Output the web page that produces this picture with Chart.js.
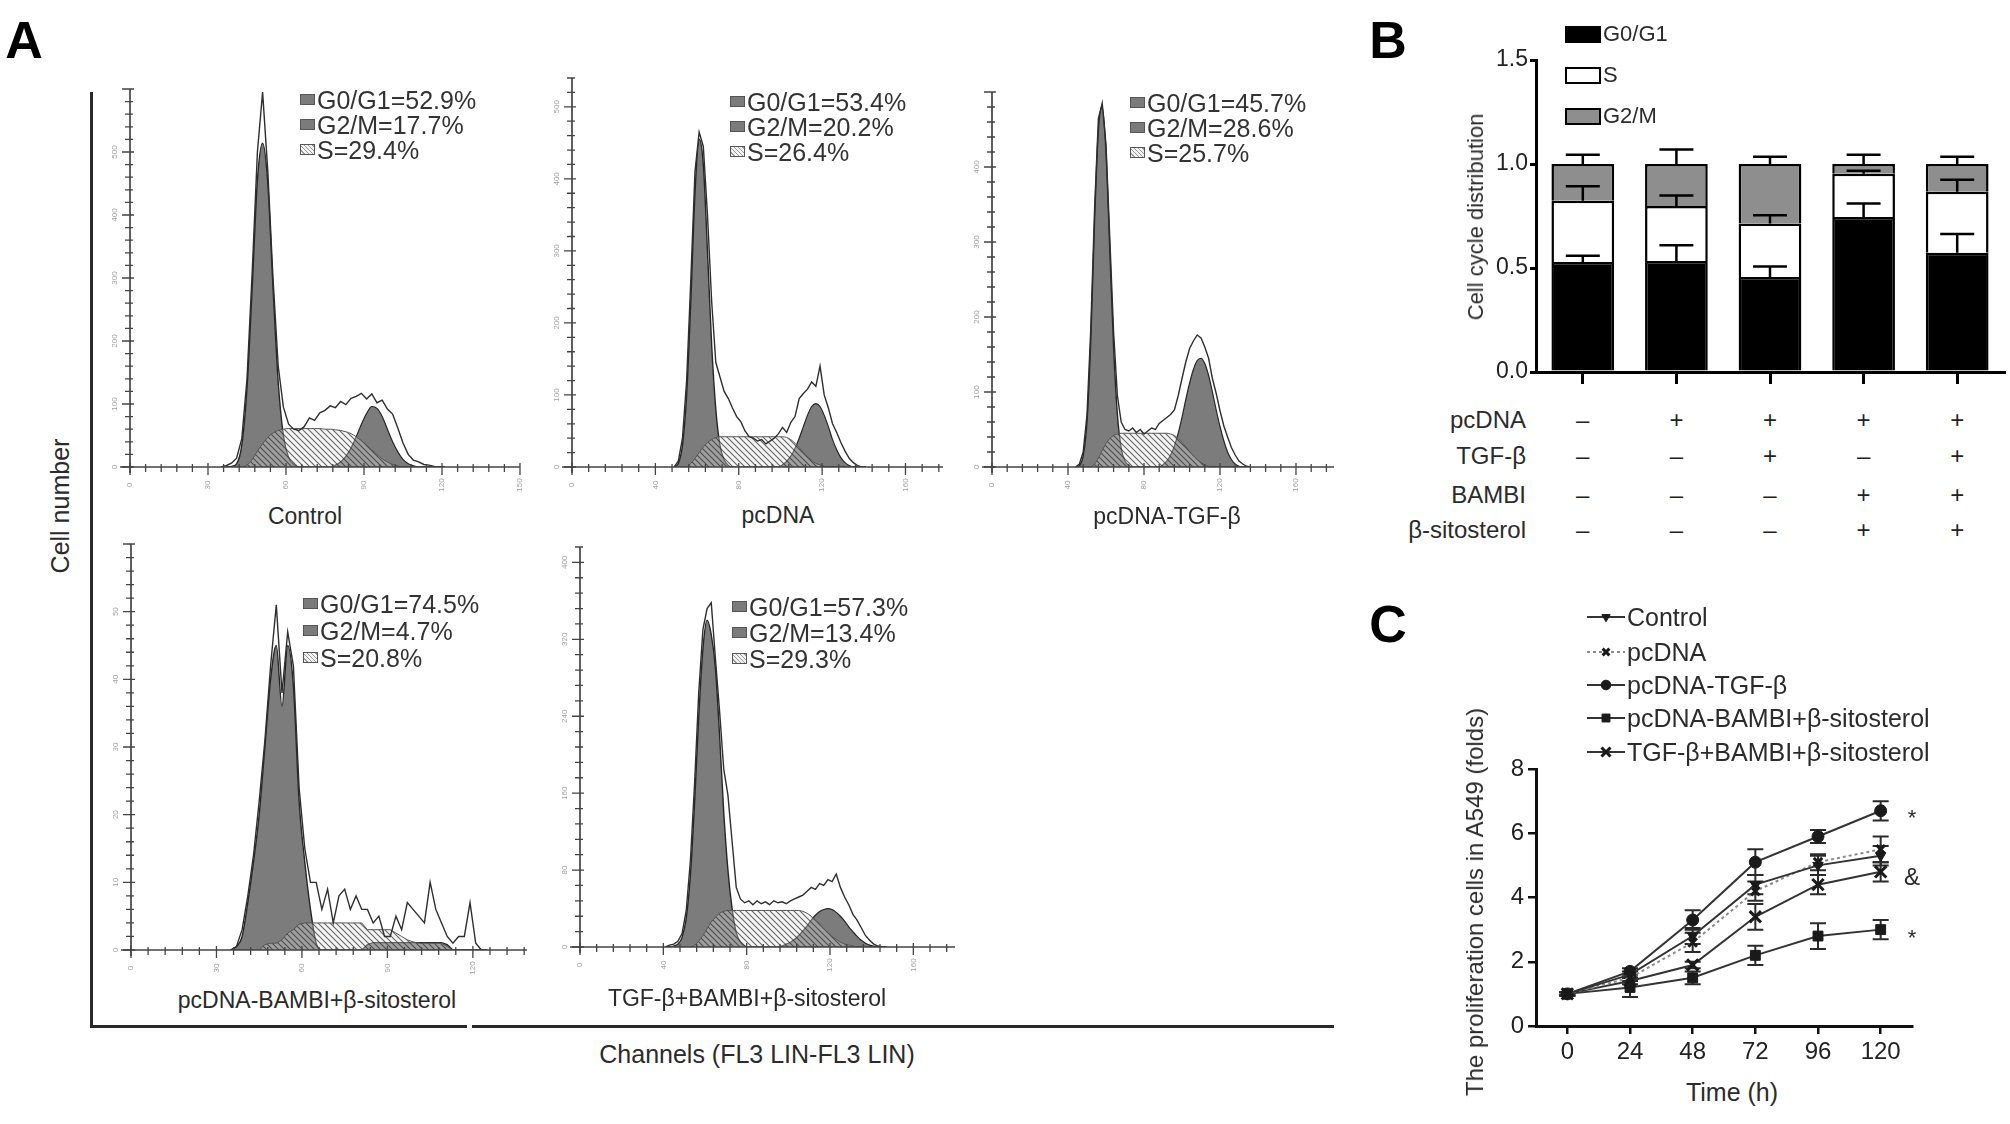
<!DOCTYPE html>
<html>
<head>
<meta charset="utf-8">
<script src="https://cdn.jsdelivr.net/npm/chart.js@4.4.0/dist/chart.umd.min.js"></script>
<style>
  body { margin: 0; background: #fff; }
  #page { position: relative; width: 2010px; height: 1124px; overflow: hidden;
          font-family: "Liberation Sans", Arial, Helvetica, sans-serif; color: #2b2b2b; }
  #page canvas { position: absolute; }
  .t { position: absolute; white-space: nowrap; line-height: 1; }
  .rule { position: absolute; background: #2a2a2a; }
  .sw { position: absolute; width: 15px; height: 11px; border: 1px solid #555; box-sizing: border-box; }
  .sw.dark { background: #7b7b7b; }
  .sw.hatch { background: repeating-linear-gradient(45deg, #f2f2f2 0 2px, #9a9a9a 2px 3px); }
  .bbox { position: absolute; width: 36px; height: 17px; border: 2.5px solid #000; box-sizing: border-box; }
</style>
</head>
<body>
<div id="page"></div>
<script>
// ─── PANEL A DATA: flow cytometry histograms ──────────────────────
// channel grid + raw counts + fitted G0/G1, S and G2/M components

// Control
const CTRL_CH  = [35,37,39,41,43,45,47,49,51,53,55,57,59,61,63,65,67,69,71,73,75,77,79,81,83,85,87,89,91,93,95,97,99,101,103,105,107,109,111,113,115,117,119,121];
const CTRL_RAW = [0,2,6,14,45,140,310,500,595,470,300,160,95,68,60,58,64,78,74,86,90,97,94,104,99,109,112,117,108,116,102,106,92,84,62,38,20,11,8,4,3,1,0,0];
const CTRL_G1  = [0,0,1,5,35,125,285,455,514,450,285,135,50,15,4,0,
                  0,0,0,0,0,0,0,0,0,0,0,0,0,0,0,0,0,0,0,0,0,0,0,0,0,0,0,0];
const CTRL_S   = [0,0,0,0,0,3,12,25,37,47,54,58,60,61,61,61,61,61,61,61,60,60,59,58,56,53,48,42,35,27,20,13,8,4,2,0,
                  0,0,0,0,0,0,0,0];
const CTRL_G2  = [0,0,0,0,0,0,0,0,0,0,0,0,0,0,0,0,0,0,0,0,0,0,
                  3,8,17,30,48,68,85,96,93,80,60,40,24,12,5,2,0,0,0,0,0,0];
const CTRL_PCT = ["G0/G1=52.9%", "G2/M=17.7%", "S=29.4%"];

// pcDNA
const PC_CH  = [49,51,53,55,57,59,61,63,65,67,69,71,73,75,77,79,81,83,85,87,89,91,93,95,97,99,101,103,105,107,109,111,113,115,117,119,121,123,125,127,129,131,133,135,137,139,141];
const PC_RAW = [0,8,40,120,260,410,465,445,350,230,145,125,105,95,82,70,63,50,42,40,36,38,32,36,40,46,55,48,62,70,95,102,108,118,112,140,100,82,60,48,34,22,12,6,2,0,0];
const PC_G1  = [0,5,30,100,230,380,455,420,300,170,80,30,10,2,0,
                0,0,0,0,0,0,0,0,0,0,0,0,0,0,0,0,0,0,0,0,0,0,0,0,0,0,0,0,0,0,0,0];
const PC_S   = [0,0,0,0,5,12,20,28,34,38,41,42,42,42,42,42,42,42,42,42,42,42,42,42,42,42,42,
                41,38,33,27,20,14,9,5,3,1,0,0,0,0,0,0,0,0,0,0];
const PC_G2  = [0,0,0,0,0,0,0,0,0,0,0,0,0,0,0,0,0,0,0,0,0,0,0,0,0,0,
                3,8,15,26,40,56,72,84,88,84,72,56,38,24,13,6,2,0,0,0,0];
const PC_PCT = ["G0/G1=53.4%", "G2/M=20.2%", "S=26.4%"];

// pcDNA-TGF-β
const TGF_CH  = [44,46,48,50,52,54,56,58,60,62,64,66,68,70,72,74,76,78,80,82,84,86,88,90,92,94,96,98,100,102,104,106,108,110,112,114,116,118,120,122,124,126,128,130,132,134,136];
const TGF_RAW = [0,4,20,70,185,345,465,485,430,305,180,95,60,50,48,52,46,50,44,48,52,50,58,62,66,70,76,95,118,140,158,168,176,172,160,145,118,98,75,55,40,26,16,8,4,1,0];
const TGF_G1  = [0,2,15,60,170,330,450,480,420,290,160,70,25,8,2,0,
                 0,0,0,0,0,0,0,0,0,0,0,0,0,0,0,0,0,0,0,0,0,0,0,0,0,0,0,0,0,0,0];
const TGF_S   = [0,0,0,0,0,4,12,22,31,38,42,44,45,45,45,45,45,45,45,45,45,45,45,45,45,
                 44,42,38,33,27,21,15,10,6,3,1,0,0,0,0,0,0,0,0,0,0,0];
const TGF_G2  = [0,0,0,0,0,0,0,0,0,0,0,0,0,0,0,0,0,0,0,0,0,0,0,
                 3,8,16,28,45,66,90,112,130,142,145,138,122,100,76,54,35,20,10,4,1,0,0,0];
const TGF_PCT = ["G0/G1=45.7%", "G2/M=28.6%", "S=25.7%"];

// pcDNA-BAMBI+β-sitosterol
const BAM_CH  = [35,37,39,41,43,45,47,49,51,53,55,57,59,61,63,65,67,69,71,73,75,77,79,81,83,85,87,89,91,93,95,97,99,101,103,105,107,109,111,113,115,117,119,121,123,125];
const BAM_RAW = [0,0.5,3,8,14,22,31,42,51,38,47,42,24,15,10,10,6,9,4,8,9,6,8,6,6,4,5,2,2,5,3,7,6,5,4,10,6,4,2,1,2,2,7,1,0,0];
const BAM_G1  = [0,0.5,2,7,13,20,30,40,45,36,45,39,22,13,6,1,0,
                 0,0,0,0,0,0,0,0,0,0,0,0,0,0,0,0,0,0,0,0,0,0,0,0,0,0,0,0,0];
const BAM_S   = [0,0,0,0,0,0,0.8,1,1,1.5,2.5,3,3.8,4,4,4,4,4,4,4,4,4,4,4,
                 3,3,3,3,3,2.5,2,1.5,1.2,1,1,1,1,1,0.5,0,0,0,0,0,0,0];
const BAM_G2  = [0,0,0,0,0,0,0,0,0,0,0,0,0,0,0,0,0,0,0,0,0,0,0,0,
                 0.8,1.1,1.1,1.1,1.1,1.1,1.1,1.1,1.1,1.1,1.1,1.1,1.1,1.1,0.8,0,0,0,0,0,0,0];
const BAM_PCT = ["G0/G1=74.5%", "G2/M=4.7%", "S=20.8%"];

// TGF-β+BAMBI+β-sitosterol
const TB_CH  = [41,43,45,47,49,51,53,55,57,59,61,63,65,67,69,71,73,75,77,79,81,83,85,87,89,91,93,95,97,99,101,103,105,107,109,111,113,115,117,119,121,123,125,127,129,131,133,135,137,139,141,143,145,147];
const TB_RAW = [0,2,3,6,14,38,90,170,265,330,352,358,300,245,185,158,110,62,50,46,48,44,48,45,47,44,48,46,47,45,48,50,52,54,58,62,60,66,64,70,68,76,62,52,44,34,28,20,12,7,3,1,0,0];
const TB_G1  = [0,0,1,3,10,30,75,150,240,310,340,325,290,220,140,80,40,15,5,1,0,
                0,0,0,0,0,0,0,0,0,0,0,0,0,0,0,0,0,0,0,0,0,0,0,0,0,0,0,0,0,0,0,0,0];
const TB_S   = [0,0,0,0,0,0,0,2,6,12,19,26,31,35,37,38,38,38,38,38,38,38,38,38,38,38,38,38,38,38,38,38,38,
                37,35,32,28,24,19,15,11,8,5,3,2,1,0,0,0,0,0,0,0,0];
const TB_G2  = [0,0,0,0,0,0,0,0,0,0,0,0,0,0,0,0,0,0,0,0,0,0,0,0,0,0,0,0,
                1,3,5,8,12,17,22,28,33,37,39,40,39,36,32,27,21,16,11,7,4,2,1,0,0,0];
const TB_PCT = ["G0/G1=57.3%", "G2/M=13.4%", "S=29.3%"];

// ─── PANEL B DATA: stacked cell-cycle distribution ────────────────
const GROUPS   = ["Control", "pcDNA", "pcDNA-TGF-β", "pcDNA-BAMBI+β-sitosterol", "TGF-β+BAMBI+β-sitosterol"];
const G0G1     = [0.529, 0.534, 0.457, 0.745, 0.573];
const S_PHASE  = [0.294, 0.264, 0.257, 0.208, 0.293];
const G2M      = [0.177, 0.202, 0.286, 0.047, 0.134];
const G0G1_ERR = [0.03, 0.075, 0.05, 0.065, 0.09];
const S_ERR    = [0.07, 0.05, 0.04, 0.015, 0.058];
const G2M_ERR  = [0.045, 0.07, 0.035, 0.045, 0.035];
const B_TICKS  = [0, 0.5, 1.0, 1.5];

const COND_NAMES = ["pcDNA", "TGF-β", "BAMBI", "β-sitosterol"];
const COND_PCDNA = ["–", "+", "+", "+", "+"];
const COND_TGF   = ["–", "–", "+", "–", "+"];
const COND_BAMBI = ["–", "–", "–", "+", "+"];
const COND_SITO  = ["–", "–", "–", "+", "+"];

// ─── PANEL C DATA: proliferation curves ───────────────────────────
const TIME        = [0, 24, 48, 72, 96, 120];
const C_YTICKS    = [0, 2, 4, 6, 8];
const CTRL_PROL   = [1.0, 1.6, 2.8, 4.4, 5.0, 5.3];
const CTRL_PERR   = [0.05, 0.1, 0.25, 0.3, 0.3, 0.3];
const PC_PROL     = [1.0, 1.5, 2.6, 4.2, 5.1, 5.5];
const PC_PERR     = [0.05, 0.1, 0.3, 0.3, 0.25, 0.4];
const TGF_PROL    = [1.0, 1.7, 3.3, 5.1, 5.9, 6.7];
const TGF_PERR    = [0.05, 0.1, 0.3, 0.4, 0.2, 0.3];
const SITO_PROL   = [1.0, 1.2, 1.5, 2.2, 2.8, 3.0];
const SITO_PERR   = [0.05, 0.3, 0.2, 0.3, 0.4, 0.3];
const TB_PROL     = [1.0, 1.4, 1.9, 3.4, 4.4, 4.8];
const TB_PERR     = [0.05, 0.1, 0.1, 0.4, 0.3, 0.3];
const C_NAMES     = ["Control", "pcDNA", "pcDNA-TGF-β", "pcDNA-BAMBI+β-sitosterol", "TGF-β+BAMBI+β-sitosterol"];

// ─── HELPERS ──────────────────────────────────────────────────────
const FONT = '"Liberation Sans", Arial, Helvetica, sans-serif';
Chart.defaults.font.family = FONT;
Chart.defaults.color = "#222";
const page = document.getElementById("page");

function addText(txt, x, y, o = {}) {
  const d = document.createElement("div");
  d.className = "t";
  d.textContent = txt;
  d.style.left = x + "px";
  d.style.top = y + "px";
  d.style.fontSize = (o.size || 24) + "px";
  let tr = o.align === "center" ? "translate(-50%,-50%)" : o.align === "right" ? "translate(-100%,-50%)" : "translate(0,-50%)";
  if (o.rotate) tr += ` rotate(${o.rotate}deg)`;
  d.style.transform = tr;
  if (o.bold) d.style.fontWeight = "bold";
  if (o.color) d.style.color = o.color;
  page.appendChild(d);
  return d;
}

function addBox(cls, x, y) {
  const d = document.createElement("div");
  d.className = cls;
  d.style.left = x + "px";
  d.style.top = y + "px";
  page.appendChild(d);
  return d;
}

function addRule(x, y, w, h) {
  const d = document.createElement("div");
  d.className = "rule";
  Object.assign(d.style, { left: x + "px", top: y + "px", width: w + "px", height: h + "px" });
  page.appendChild(d);
}

function addCanvas(x, y, w, h) {
  const c = document.createElement("canvas");
  c.width = Math.round(w); c.height = Math.round(h);
  c.style.left = Math.round(x) + "px"; c.style.top = Math.round(y) + "px";
  page.appendChild(c);
  return c;
}

// diagonal hatch used for the S-phase component
function makeHatch() {
  const c = document.createElement("canvas");
  c.width = 6; c.height = 6;
  const g = c.getContext("2d");
  g.fillStyle = "rgba(225,225,225,0.35)";
  g.fillRect(0, 0, 6, 6);
  g.strokeStyle = "rgba(40,40,40,0.7)";
  g.lineWidth = 1.1;
  g.beginPath();
  g.moveTo(0, 0); g.lineTo(6, 6);
  g.moveTo(-3, 3); g.lineTo(3, 9);
  g.moveTo(3, -3); g.lineTo(9, 3);
  g.stroke();
  return g.createPattern(c, "repeat");
}

// ─── PLUGINS ──────────────────────────────────────────────────────
// axes of the cytometer plots: crossing ticks + tiny rotated labels
const flowAxes = {
  id: "flowAxes",
  afterDatasetsDraw(chart, args, o) {
    const { ctx, scales: { x, y } } = chart;
    const x0 = x.getPixelForValue(0), y0 = y.getPixelForValue(0);
    const xEnd = x.getPixelForValue(x.max), yTop = y.getPixelForValue(y.max);
    const isMajor = (v, step) => Math.abs(v / step - Math.round(v / step)) < 1e-6;
    ctx.save();
    ctx.strokeStyle = "#444";
    ctx.lineWidth = 1.7;
    ctx.beginPath();
    ctx.moveTo(x0 - 10, y0); ctx.lineTo(xEnd, y0);
    ctx.moveTo(x0, y0 + 6); ctx.lineTo(x0, yTop);
    ctx.stroke();

    ctx.lineWidth = 1.3;
    ctx.beginPath();
    for (let v = 0; v <= x.max + 1e-9; v += o.xMin) {
      const px = x.getPixelForValue(v), m = isMajor(v, o.xMaj);
      ctx.moveTo(px, y0 - (m ? 4 : 3)); ctx.lineTo(px, y0 + (m ? 8 : 5));
    }
    for (let v = 0; v <= y.max + 1e-9; v += o.yMin) {
      const py = y.getPixelForValue(v), m = isMajor(v, o.yMaj);
      ctx.moveTo(x0 - (m ? 8 : 5), py); ctx.lineTo(x0 + (m ? 4 : 3), py);
    }
    ctx.stroke();

    ctx.fillStyle = "#a0a0a0";
    ctx.font = "8px " + FONT;
    ctx.textAlign = "center";
    ctx.textBaseline = "middle";
    for (let v = 0; v <= x.max + 1e-9; v += o.xMaj) {
      ctx.save();
      ctx.translate(x.getPixelForValue(v), y0 + 18);
      ctx.rotate(-Math.PI / 2);
      ctx.fillText(String(v), 0, 0);
      ctx.restore();
    }
    for (let v = 0; v < y.max - 1e-9; v += o.yMaj) {
      ctx.save();
      ctx.translate(x0 - 15, y.getPixelForValue(v));
      ctx.rotate(-Math.PI / 2);
      ctx.fillText(String(v), 0, 0);
      ctx.restore();
    }
    ctx.restore();
  }
};

// error bars on top of each stacked segment
const stackErrBars = {
  id: "stackErrBars",
  afterDatasetsDraw(chart, args, o) {
    const { ctx, scales: { x, y } } = chart;
    const tops = chart.data.labels.map(() => 0);
    ctx.save();
    ctx.strokeStyle = "#000";
    ctx.lineWidth = 2.5;
    chart.data.datasets.forEach((ds, d) => {
      ds.data.forEach((v, j) => {
        tops[j] += v;
        const px = x.getPixelForValue(j);
        const yb = y.getPixelForValue(tops[j]);
        const yt = y.getPixelForValue(tops[j] + o.errors[d][j]);
        ctx.beginPath();
        ctx.moveTo(px, yb); ctx.lineTo(px, yt);
        ctx.moveTo(px - o.cap, yt); ctx.lineTo(px + o.cap, yt);
        ctx.stroke();
      });
    });
    ctx.restore();
  }
};

// symmetric error bars on line points
const pointErrBars = {
  id: "pointErrBars",
  beforeDatasetsDraw(chart, args, o) {
    const { ctx, scales: { x, y } } = chart;
    ctx.save();
    ctx.strokeStyle = "#2a2a2a";
    ctx.lineWidth = 2;
    chart.data.datasets.forEach((ds, d) => {
      ds.data.forEach((p, j) => {
        const e = o.errors[d][j];
        const px = x.getPixelForValue(p.x);
        const yl = y.getPixelForValue(p.y - e), yh = y.getPixelForValue(p.y + e);
        ctx.beginPath();
        ctx.moveTo(px, yl); ctx.lineTo(px, yh);
        ctx.moveTo(px - o.cap, yl); ctx.lineTo(px + o.cap, yl);
        ctx.moveTo(px - o.cap, yh); ctx.lineTo(px + o.cap, yh);
        ctx.stroke();
      });
    });
    ctx.restore();
  }
};

// line + marker samples for the panel C legend (text is HTML)
const sampleLegend = {
  id: "sampleLegend",
  afterDraw(chart, args, o) {
    const ctx = chart.ctx;
    chart.data.datasets.forEach((ds, i) => {
      const y = o.rows[i], cx = (o.x1 + o.x2) / 2;
      ctx.save();
      ctx.strokeStyle = ds.borderColor;
      ctx.lineWidth = ds.borderWidth;
      ctx.setLineDash(ds.borderDash || []);
      ctx.beginPath();
      ctx.moveTo(o.x1, y); ctx.lineTo(o.x2, y);
      ctx.stroke();
      ctx.setLineDash([]);
      ctx.fillStyle = ds.pointBackgroundColor;
      ctx.strokeStyle = ds.pointBorderColor;
      ctx.lineWidth = ds.pointBorderWidth;
      Chart.helpers.drawPoint(ctx, {
        pointStyle: ds.pointStyle, rotation: ds.pointRotation || 0,
        radius: ds.pointRadius * 0.8, borderWidth: ds.pointBorderWidth
      }, cx, y);
      ctx.restore();
    });
  }
};

// ─── PANEL A ──────────────────────────────────────────────────────
const HISTS = [
  { ch: CTRL_CH, raw: CTRL_RAW, g1: CTRL_G1, s: CTRL_S, g2: CTRL_G2, pct: CTRL_PCT, title: "Control",
    box: { x0: 130, base: 467, xEnd: 520, xMax: 150, yMax: 600, pxY: 0.63 },
    ticks: { xMaj: 30, xMin: 6, yMaj: 100, yMin: 20 },
    legend: { x: 300, y: 100, dy: 25 }, titleAt: [305, 516], smooth: true },
  { ch: PC_CH, raw: PC_RAW, g1: PC_G1, s: PC_S, g2: PC_G2, pct: PC_PCT, title: "pcDNA",
    box: { x0: 572, base: 467, xEnd: 943, xMax: 178, yMax: 540, pxY: 0.72 },
    ticks: { xMaj: 40, xMin: 8, yMaj: 100, yMin: 20 },
    legend: { x: 730, y: 102, dy: 25 }, titleAt: [778, 515], smooth: true },
  { ch: TGF_CH, raw: TGF_RAW, g1: TGF_G1, s: TGF_S, g2: TGF_G2, pct: TGF_PCT, title: "pcDNA-TGF-β",
    box: { x0: 992, base: 467, xEnd: 1334, xMax: 180, yMax: 500, pxY: 0.75 },
    ticks: { xMaj: 40, xMin: 8, yMaj: 100, yMin: 20 },
    legend: { x: 1130, y: 103, dy: 25 }, titleAt: [1167, 516], smooth: true },
  { ch: BAM_CH, raw: BAM_RAW, g1: BAM_G1, s: BAM_S, g2: BAM_G2, pct: BAM_PCT, title: "pcDNA-BAMBI+β-sitosterol",
    box: { x0: 131, base: 950, xEnd: 527, xMax: 139, yMax: 60, pxY: 6.76 },
    ticks: { xMaj: 30, xMin: 6, yMaj: 10, yMin: 2 },
    legend: { x: 303, y: 604, dy: 27 }, titleAt: [317, 1000], smooth: false },
  { ch: TB_CH, raw: TB_RAW, g1: TB_G1, s: TB_S, g2: TB_G2, pct: TB_PCT, title: "TGF-β+BAMBI+β-sitosterol",
    box: { x0: 580, base: 947, xEnd: 955, xMax: 180, yMax: 416, pxY: 0.9625 },
    ticks: { xMaj: 40, xMin: 8, yMaj: 80, yMin: 16 },
    legend: { x: 732, y: 607, dy: 26 }, titleAt: [747, 998], smooth: true }
];

const M = 30;
const hatch = makeHatch();

HISTS.forEach(h => {
  const b = h.box;
  const yTop = b.base - b.yMax * b.pxY;
  const cv = addCanvas(b.x0 - M, yTop - M, (b.xEnd - b.x0) + 2 * M, (b.base - yTop) + 2 * M);
  const pts = arr => h.ch.map((c, i) => ({ x: c, y: arr[i] }));
  const phase = (arr, smooth, extra) => Object.assign({
    data: pts(arr), pointRadius: 0, fill: "origin",
    cubicInterpolationMode: smooth ? "monotone" : "default", tension: 0
  }, extra);

  new Chart(cv, {
    type: "line",
    data: {
      datasets: [
        { data: pts(h.raw), borderColor: "#2e2e2e", borderWidth: 1.4, pointRadius: 0, fill: false, tension: 0, order: 0 },
        phase(h.s, h.smooth, { borderColor: "#555", borderWidth: 1, backgroundColor: hatch, order: 1 }),
        phase(h.g1, true, { borderColor: "#262626", borderWidth: 1.4, backgroundColor: "#7c7c7c", order: 2 }),
        phase(h.g2, h.smooth, { borderColor: "#262626", borderWidth: 1.2, backgroundColor: "#7c7c7c", order: 2 })
      ]
    },
    options: {
      responsive: false,
      animation: false,
      layout: { padding: M },
      plugins: { legend: { display: false }, tooltip: { enabled: false }, flowAxes: h.ticks },
      scales: {
        x: { type: "linear", min: 0, max: b.xMax, display: false },
        y: { min: 0, max: b.yMax, display: false }
      }
    },
    plugins: [flowAxes]
  });

  // legend: G0/G1, G2/M dark swatches, S hatched
  const L = h.legend;
  ["sw dark", "sw dark", "sw hatch"].forEach((cls, i) => {
    addBox(cls, L.x, L.y + i * L.dy - 6);
    addText(h.pct[i], L.x + 17, L.y + i * L.dy, { size: 25, color: "#333" });
  });
  addText(h.title, h.titleAt[0], h.titleAt[1], { size: 23, align: "center", color: "#2a2a2a" });
});

// frame around panel A
addRule(90, 92, 3, 936);
addRule(90, 1025, 377, 3);
addRule(472, 1025, 862, 3);
addText("Cell number", 60, 506, { size: 25, align: "center", rotate: -90 });
addText("Channels (FL3 LIN-FL3 LIN)", 757, 1054, { size: 25, align: "center" });

// ─── PANEL B ──────────────────────────────────────────────────────
const cB = addCanvas(1440, 20, 570, 372);
const barB = new Chart(cB, {
  type: "bar",
  data: {
    labels: GROUPS,
    datasets: [
      { label: "G0/G1", data: G0G1,    backgroundColor: "#000",    borderColor: "#000", borderWidth: 2.5 },
      { label: "S",     data: S_PHASE, backgroundColor: "#fff",    borderColor: "#000", borderWidth: 2.5 },
      { label: "G2/M",  data: G2M,     backgroundColor: "#8e8e8e", borderColor: "#000", borderWidth: 2.5 }
    ]
  },
  options: {
    responsive: false,
    animation: false,
    layout: { padding: { top: 40, right: 6, left: 0, bottom: 0 } },
    datasets: { bar: { categoryPercentage: 1, barPercentage: 0.67 } },
    plugins: {
      legend: { display: false }, tooltip: { enabled: false },
      stackErrBars: { errors: [G0G1_ERR, S_ERR, G2M_ERR], cap: 17 }
    },
    scales: {
      x: {
        stacked: true,
        ticks: { display: false },
        grid: { drawOnChartArea: false, offset: false, tickLength: 12, lineWidth: 3, color: "#000" },
        border: { color: "#000", width: 3 },
        afterFit(s) { s.height = 20; }
      },
      y: {
        stacked: true, min: 0, max: 1.5,
        afterBuildTicks(s) { s.ticks = B_TICKS.map(v => ({ value: v })); },
        ticks: { callback: v => v.toFixed(1), font: { size: 23 }, color: "#222", padding: 2 },
        grid: { drawOnChartArea: false, tickLength: 6, lineWidth: 3, color: "#000" },
        border: { color: "#000", width: 3 },
        afterFit(s) { s.width = 96; }
      }
    }
  },
  plugins: [stackErrBars]
});

addText("B", 1388, 40, { size: 52, bold: true, align: "center", color: "#000" });
addText("Cell cycle distribution", 1476, 217, { size: 22, align: "center", rotate: -90 });
[["#000", "G0/G1"], ["#fff", "S"], ["#8e8e8e", "G2/M"]].forEach(([col, name], i) => {
  const y = [34, 75, 116][i];
  addBox("bbox", 1565, y - 8).style.background = col;
  addText(name, 1603, y, { size: 22 });
});

// treatment table under the bars, aligned with the category scale
const condRows = [COND_PCDNA, COND_TGF, COND_BAMBI, COND_SITO];
const condY = [420, 456, 495, 530];
condRows.forEach((row, r) => {
  addText(COND_NAMES[r], 1526, condY[r], { size: 24, align: "right" });
  row.forEach((mark, j) => {
    const cx = 1440 + barB.scales.x.getPixelForValue(j);
    addText(mark, cx, condY[r], { size: 24, align: "center", color: "#222" });
  });
});

// ─── PANEL C ──────────────────────────────────────────────────────
const C_TOP = 600, C_LEFT = 1440;
const cC = addCanvas(C_LEFT, C_TOP, 483, 471);
const prolSeries = [
  { data: CTRL_PROL, style: "triangle", rot: 180, r: 6,   dash: [],     color: "#333" },
  { data: PC_PROL,   style: "crossRot", rot: 0,   r: 6,   dash: [3, 3], color: "#8a8a8a" },
  { data: TGF_PROL,  style: "circle",   rot: 0,   r: 6,   dash: [],     color: "#333" },
  { data: SITO_PROL, style: "rect",     rot: 0,   r: 7,   dash: [],     color: "#333" },
  { data: TB_PROL,   style: "crossRot", rot: 0,   r: 8,   dash: [],     color: "#333" }
];
const legendRows = [617, 652, 685, 718, 752];

new Chart(cC, {
  type: "line",
  data: {
    datasets: prolSeries.map((s, i) => ({
      label: C_NAMES[i],
      data: TIME.map((t, j) => ({ x: t, y: s.data[j] })),
      borderColor: s.color,
      borderWidth: 2,
      borderDash: s.dash,
      pointStyle: s.style,
      pointRotation: s.rot,
      pointRadius: s.r,
      pointBorderWidth: s.style === "crossRot" ? 3 : 1,
      pointBackgroundColor: "#1a1a1a",
      pointBorderColor: "#1a1a1a",
      tension: 0
    }))
  },
  options: {
    responsive: false,
    animation: false,
    layout: { padding: { top: 169, right: 0, left: 0, bottom: 0 } },
    plugins: {
      legend: { display: false }, tooltip: { enabled: false },
      pointErrBars: { errors: [CTRL_PERR, PC_PERR, TGF_PERR, SITO_PERR, TB_PERR], cap: 8 },
      sampleLegend: { rows: legendRows.map(y => y - C_TOP), x1: 1587 - C_LEFT, x2: 1625 - C_LEFT }
    },
    scales: {
      x: {
        type: "linear", min: -12, max: 132,
        afterBuildTicks(s) { s.ticks = TIME.map(v => ({ value: v })); },
        ticks: { font: { size: 24 }, color: "#222", padding: 4, maxRotation: 0 },
        grid: { drawOnChartArea: false, tickLength: 8, lineWidth: 2.5, color: "#111" },
        border: { color: "#111", width: 3 },
        afterFit(s) { s.height = 45; }
      },
      y: {
        min: 0, max: 8,
        afterBuildTicks(s) { s.ticks = C_YTICKS.map(v => ({ value: v })); },
        ticks: { font: { size: 24 }, color: "#222", padding: 4 },
        grid: { drawOnChartArea: false, tickLength: 8, lineWidth: 2.5, color: "#111" },
        border: { color: "#111", width: 3 },
        afterFit(s) { s.width = 96; }
      }
    }
  },
  plugins: [pointErrBars, sampleLegend]
});

C_NAMES.forEach((name, i) => addText(name, 1627, legendRows[i], { size: 25 }));
addText("C", 1388, 624, { size: 52, bold: true, align: "center", color: "#000" });
addText("The proliferation cells in A549 (folds)", 1475, 902, { size: 24, align: "center", rotate: -90 });
addText("Time (h)", 1732, 1092, { size: 25, align: "center" });
addText("*", 1912, 818, { size: 22, align: "center" });
addText("&", 1912, 877, { size: 24, align: "center" });
addText("*", 1912, 938, { size: 22, align: "center" });

addText("A", 24, 40, { size: 52, bold: true, align: "center", color: "#000" });
</script>
</body>
</html>
